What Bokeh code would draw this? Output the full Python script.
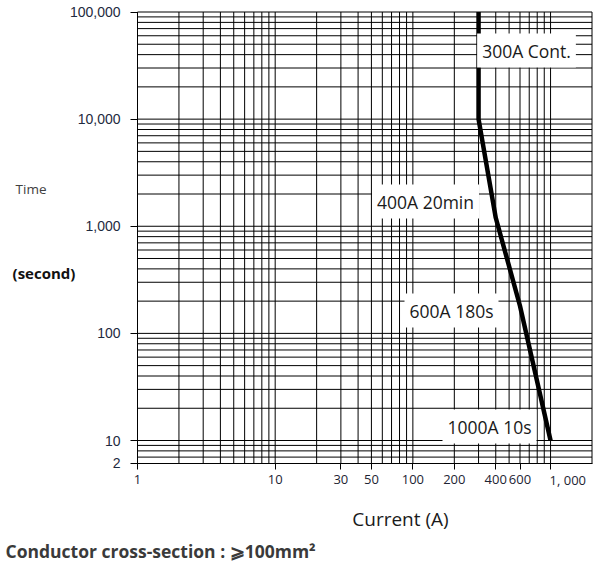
import math
from bokeh.plotting import figure
from bokeh.models import FixedTicker, Label, Range1d, LogAxis
from bokeh.embed import file_html
from bokeh.resources import INLINE

# ---- data ----
current_a = [300, 300, 400, 600, 1000]
time_s = [100000, 10000, 1200, 180, 10]

rating_texts = ["300A Cont.", "400A 20min", "600A 180s", "1000A 10s"]

x_tick_values = [1, 10, 30, 50, 100, 200, 400, 600, 1000]
x_tick_labels = ["1", "10", "30", "50", "100", "200", "400", "600", "1, 000"]
y_tick_values = [6.1, 10, 100, 1000, 10000, 100000]
y_tick_labels = ["2", "10", "100", "1,000", "10,000", "100,000"]

X_MIN, X_MAX = 1, 2000          # chart box, current axis
Y_MIN, Y_MAX = 6.1, 100000      # chart box, time axis

x_title = "Current (A)"
y_title_1 = "Time"
y_title_2 = "(second)"
footnote = "Conductor cross-section : \u2a7e100mm\u00b2"

# ---- layout (page pixels) ----
W, H = 600, 562
PX_LEFT, PX_RIGHT = 137.0, 591.5     # x = X_MIN, X_MAX
PY_TOP, PY_TEN = 11.5, 440.0         # y = Y_MAX, 10
DX = (PX_RIGHT - PX_LEFT) / (math.log10(X_MAX) - math.log10(X_MIN))
DY = (PY_TEN - PY_TOP) / (math.log10(Y_MAX) - 1)

def dx(px):
    return 10 ** (math.log10(X_MIN) + (px - PX_LEFT) / DX)

def dy(py):
    return 10 ** (math.log10(Y_MAX) - (py - PY_TOP) / DY)

p = figure(width=W, height=H, x_axis_type="log", y_axis_type="log",
           x_axis_location=None, y_axis_location=None,
           x_range=Range1d(dx(0), dx(W)), y_range=Range1d(dy(H), dy(0)),
           output_backend="svg", toolbar_location=None, title_location=None,
           min_border=0, min_border_left=0, min_border_right=0,
           min_border_top=0, min_border_bottom=0)
p.background_fill_color = "white"
p.border_fill_color = "white"
p.outline_line_color = None
p.grid.visible = False
p.grid.grid_line_color = None

# ---- grid (log minor lines inside the chart box) ----
grid_x = [m * 10 ** k for k in range(0, 4) for m in range(1, 10)]
grid_y = [m * 10 ** k for k in range(0, 6) for m in range(1, 10)]
vx = [v for v in grid_x if X_MIN <= v <= X_MAX]
hy = [v for v in grid_y if Y_MIN <= v <= Y_MAX]
p.segment(x0=vx, y0=[Y_MIN] * len(vx), x1=vx, y1=[Y_MAX] * len(vx),
          line_color="black", line_width=1)
p.segment(x0=[X_MIN] * len(hy), y0=hy, x1=[X_MAX] * len(hy), y1=hy,
          line_color="black", line_width=1)

# ---- axes ----
x_overrides = {v: l for v, l in zip(x_tick_values, x_tick_labels)}
x_overrides[x_tick_values[-1]] = ""   # last label is drawn left-aligned below
xax = LogAxis(fixed_location=Y_MIN, bounds=(X_MIN, X_MAX),
              ticker=FixedTicker(ticks=x_tick_values, minor_ticks=[]))
xax.major_label_overrides = x_overrides
xax.major_tick_out = 6
xax.major_tick_in = 0
xax.minor_tick_line_color = None
xax.axis_line_color = "black"
xax.major_tick_line_color = "black"
xax.major_label_standoff = 6
xax.major_label_text_font = "Open Sans"
xax.major_label_text_font_size = "13px"
xax.major_label_text_color = "#1e2433"
p.add_layout(xax, "below")

yax = LogAxis(fixed_location=X_MIN, bounds=(Y_MIN, Y_MAX),
              ticker=FixedTicker(ticks=y_tick_values, minor_ticks=[]))
yax.major_label_overrides = {v: l for v, l in zip(y_tick_values, y_tick_labels)}
yax.major_tick_out = 7
yax.major_tick_in = 0
yax.minor_tick_line_color = None
yax.axis_line_color = "black"
yax.major_tick_line_color = "black"
yax.major_label_standoff = 10
yax.major_label_text_font = "Liberation Sans"
yax.major_label_text_font_size = "14px"
yax.major_label_text_color = "#1e2a40"
p.add_layout(yax, "left")

p.add_layout(Label(x=x_tick_values[-1], y=dy(479), text=x_tick_labels[-1],
                   x_offset=-1, text_align="left", text_baseline="middle",
                   text_font="Open Sans", text_font_size="13px", text_color="#1e2433"))

# ---- curve ----
p.line(current_a, time_s, line_color="black", line_width=4.5, line_join="round")

# ---- rating labels ----
rating_pos = [(526, 50), (425, 201), (451, 310), (489, 426)]
for txt, (px, py) in zip(rating_texts, rating_pos):
    p.add_layout(Label(x=dx(px), y=dy(py), text=txt, text_align="center",
                       text_baseline="middle", text_font="Open Sans",
                       text_font_size="17.5px", text_color="#1a1a1a",
                       background_fill_color="white", background_fill_alpha=1,
                       padding=5))

# ---- titles ----
p.add_layout(Label(x=dx(30.5), y=dy(188), text=y_title_1, text_align="center",
                   text_baseline="middle", text_font="Open Sans",
                   text_font_size="13.5px", text_color="#404040"))
p.add_layout(Label(x=dx(43.5), y=dy(272), text=y_title_2, text_align="center",
                   text_baseline="middle", text_font="Open Sans",
                   text_font_size="15px", text_font_style="bold", text_color="#111111"))
p.add_layout(Label(x=dx(400), y=dy(518), text=x_title, text_align="center",
                   text_baseline="middle", text_font="Open Sans",
                   text_font_size="19px", text_color="#1a1a1a"))
p.add_layout(Label(x=dx(5), y=dy(550), text=footnote, text_align="left",
                   text_baseline="middle", text_font="Open Sans",
                   text_font_size="17.5px", text_font_style="bold", text_color="#3a3a3a"))

open("out.html", "w").write(file_html(p, INLINE))
